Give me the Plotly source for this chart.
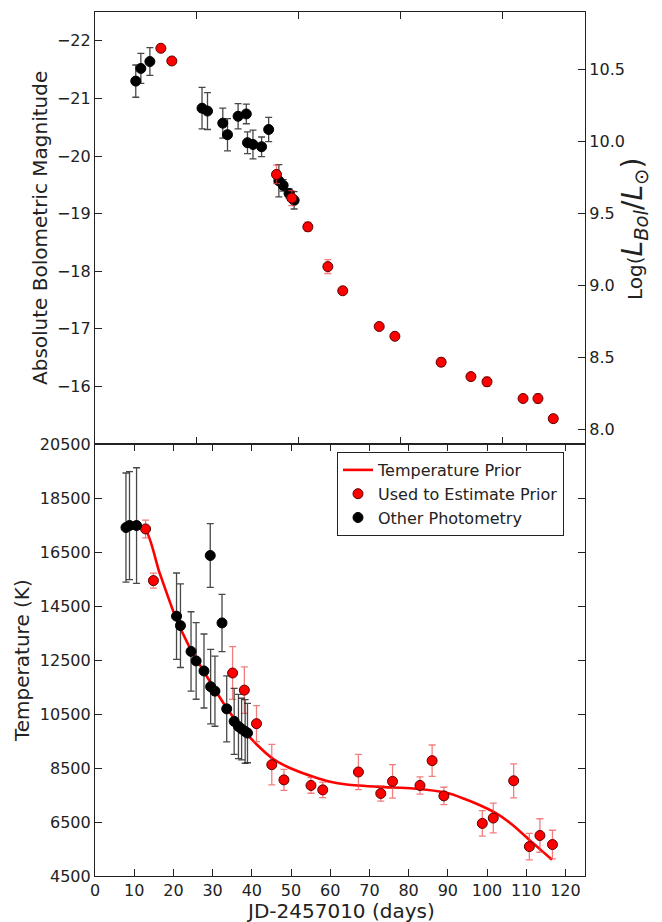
import plotly.graph_objects as go

# ---------------- data ----------------
# Top panel: absolute bolometric magnitude
top_black_day = [10.4, 11.7, 14.0, 27.3, 28.7, 32.6, 33.8, 36.5, 38.6, 38.9, 40.3, 42.5, 44.3, 46.9, 48.0, 49.5, 50.8]
top_black_mag = [-21.30, -21.52, -21.64, -20.83, -20.78, -20.57, -20.37, -20.69, -20.73, -20.23, -20.20, -20.16, -20.46,
                 -19.57, -19.49, -19.35, -19.23]
top_black_err = [0.28, 0.26, 0.24, 0.36, 0.32, 0.26, 0.28, 0.22, 0.17, 0.19, 0.25, 0.17, 0.21, 0.28, 0.10, 0.08, 0.15]

top_red_day = [16.8, 19.6, 46.3, 50.2, 54.3, 59.4, 63.2, 72.5, 76.5, 88.3, 95.9, 100.0, 109.2, 113.0, 116.9]
top_red_mag = [-21.87, -21.65, -19.68, -19.27, -18.77, -18.08, -17.66, -17.04, -16.87, -16.42, -16.17, -16.08,
               -15.79, -15.79, -15.44]
top_red_err = [0.03, 0.03, 0.16, 0.13, 0.08, 0.12, 0.04, 0.04, 0.04, 0.07, 0.04, 0.08, 0.04, 0.08, 0.05]

# Bottom panel: temperature
bot_black_day = [7.9, 8.8, 10.6, 20.8, 21.8, 24.5, 25.8, 27.8, 29.4, 29.5, 30.6, 32.4, 33.6, 35.5, 36.6, 37.4, 38.3, 38.9]
bot_black_T = [17406, 17480, 17480, 14123, 13772, 12817, 12466, 12093, 16370, 11511, 11347, 13873, 10690, 10227,
               10040, 9944, 9855, 9795]
bot_black_err = [2020, 2000, 2140, 1600, 1550, 1470, 1420, 1370, 1180, 1380, 1300, 1060, 1220, 1220, 1190, 1140, 1180, 1100]

bot_red_day = [12.9, 14.9, 35.1, 38.1, 41.2, 45.1, 48.2, 55.1, 58.1, 67.2, 72.9, 75.9, 82.9, 86.0, 89.0, 98.8, 101.6,
               106.8, 110.8, 113.5, 116.7]
bot_red_T = [17354, 15440, 12018, 11384, 10142, 8623, 8060, 7855, 7690, 8351, 7556, 8004, 7855, 8772, 7467, 6448, 6646,
             8026, 5590, 6000, 5665]
bot_red_err = [330, 280, 980, 860, 665, 750, 390, 290, 290, 650, 280, 620, 320, 580, 320, 470, 550, 630, 490, 620, 530]

# Temperature prior curve
prior_day = [7.9, 12.6, 16.4, 20.4, 24.2, 28.5, 32.8, 37.0, 41.2, 45.5, 49.7, 55.7, 60.0, 64.2, 72.7, 81.2, 89.7,
             94.0, 98.2, 102.5, 106.7, 111.0, 114.0, 116.6]
prior_T = [17380, 17380, 15760, 14145, 12950, 11900, 10900, 10050, 9380, 8830, 8500, 8175, 7990, 7890, 7800, 7740,
           7580, 7370, 7120, 6810, 6370, 5810, 5430, 5100]

mag_ticks = [-22, -21, -20, -19, -18, -17, -16]
logl_ticks = [8.0, 8.5, 9.0, 9.5, 10.0, 10.5]
temp_ticks = [4500, 6500, 8500, 10500, 12500, 14500, 16500, 18500, 20500]
day_ticks = [0, 10, 20, 30, 40, 50, 60, 70, 80, 90, 100, 110, 120]
top_day_ticks = [26, 52, 78, 104]
M_SUN = 4.74

# ---------------- figure ----------------
FONT = "DejaVu Sans"
TXT = "#222"
RED = "#ff0000"
RED_ERR = "rgba(240,70,70,0.7)"
BLK_ERR = "rgba(40,40,40,0.85)"

fig = go.Figure()

fig.add_trace(go.Scatter(
    x=top_black_day, y=top_black_mag, mode="markers", xaxis="x", yaxis="y",
    marker=dict(color="black", size=10, line=dict(color="black", width=1)),
    error_y=dict(type="data", array=top_black_err, color=BLK_ERR, thickness=1.3, width=3.5),
    showlegend=False))
fig.add_trace(go.Scatter(
    x=top_red_day, y=top_red_mag, mode="markers", xaxis="x", yaxis="y",
    marker=dict(color=RED, size=10, line=dict(color="#5a0000", width=1)),
    error_y=dict(type="data", array=top_red_err, color=RED_ERR, thickness=1.3, width=3.5),
    showlegend=False))
# invisible trace carrying the luminosity axis
fig.add_trace(go.Scatter(
    x=top_red_day, y=[(M_SUN - m) / 2.5 for m in top_red_mag], mode="markers", xaxis="x", yaxis="y3",
    marker=dict(opacity=0), hoverinfo="skip", showlegend=False))

fig.add_trace(go.Scatter(
    x=prior_day, y=prior_T, mode="lines", xaxis="x2", yaxis="y2",
    line=dict(color=RED, width=2.6, shape="spline", smoothing=0.7),
    name="Temperature Prior"))
fig.add_trace(go.Scatter(
    x=bot_red_day, y=bot_red_T, mode="markers", xaxis="x2", yaxis="y2",
    marker=dict(color=RED, size=10, line=dict(color="#5a0000", width=1)),
    error_y=dict(type="data", array=bot_red_err, color=RED_ERR, thickness=1.3, width=3.5),
    name="Used to Estimate Prior"))
fig.add_trace(go.Scatter(
    x=bot_black_day, y=bot_black_T, mode="markers", xaxis="x2", yaxis="y2",
    marker=dict(color="black", size=10, line=dict(color="black", width=1)),
    error_y=dict(type="data", array=bot_black_err, color=BLK_ERR, thickness=1.3, width=3.5),
    name="Other Photometry"))

axis_common = dict(showline=True, linecolor=TXT, linewidth=1.2, ticks="inside", ticklen=7,
                   tickwidth=1, tickcolor=TXT, showgrid=False, zeroline=False, automargin=False,
                   tickfont=dict(family=FONT, size=16, color=TXT))

ymin_mag, ymax_mag = -15.0, -22.5
# the page body has an 8 px margin; size the figure so the plot lands where the reference has it
OFF = 8
W, H = 662 - OFF, 922 - OFF
L, R, T, B = 95 - OFF, 77, 12 - OFF, 46
PW, PH = W - L - R, H - T - B


def px_x(x):
    return (x - OFF - L) / PW


def px_y(y):
    return (H - B - (y - OFF)) / PH


title_font = dict(family=FONT, size=20, color=TXT)
annotations = [
    dict(text="Absolute Bolometric Magnitude", x=px_x(40), y=px_y(228), textangle=-90),
    dict(text="Temperature (K)", x=px_x(22), y=px_y(661), textangle=-90),
    dict(text="JD-2457010 (days)", x=px_x(340), y=px_y(910.5), textangle=0),
    dict(text="Log(<span style=\"font-size:28px\"><i>L</i><sub><i>Bol</i></sub>/<i>L</i><sub>\u2299</sub>)</span>",
         x=px_x(634), y=px_y(229), textangle=-90, font=dict(family=FONT, size=20, color=TXT)),
]
for a in annotations:
    a.update(xref="paper", yref="paper", showarrow=False, xanchor="center", yanchor="middle")
    a.setdefault("font", title_font)

fig.update_layout(
    width=W, height=H,
    margin=dict(l=L, r=R, t=T, b=B),
    paper_bgcolor="white", plot_bgcolor="white",
    font=dict(family=FONT, color=TXT),
    xaxis=dict(domain=[0, 1], anchor="y", range=[0, 125], tickvals=top_day_ticks,
               showticklabels=False, mirror="ticks", **axis_common),
    yaxis=dict(domain=[0.5, 1], anchor="x", range=[ymin_mag, ymax_mag], tickvals=mag_ticks,
               ticktext=["\u2212" + str(abs(v)) for v in mag_ticks], **axis_common),
    yaxis3=dict(overlaying="y", anchor="x", side="right",
                range=[(M_SUN - ymin_mag) / 2.5, (M_SUN - ymax_mag) / 2.5],
                tickvals=logl_ticks, ticktext=["%.1f" % v for v in logl_ticks], **axis_common),
    xaxis2=dict(domain=[0, 1], anchor="y2", range=[0, 125], tickvals=day_ticks,
                ticktext=[str(v) for v in day_ticks], mirror="ticks", **axis_common),
    yaxis2=dict(domain=[0, 0.5], anchor="x2", range=[4500, 20500], tickvals=temp_ticks,
                ticktext=[str(v) for v in temp_ticks], mirror="ticks", **axis_common),
    legend=dict(x=px_x(337), y=px_y(452), xanchor="left", yanchor="top", bgcolor="white",
                bordercolor=TXT, borderwidth=1, font=dict(family=FONT, size=16, color=TXT),
                tracegroupgap=0, itemwidth=30),
    annotations=annotations,
)

fig.write_html("out.html")
